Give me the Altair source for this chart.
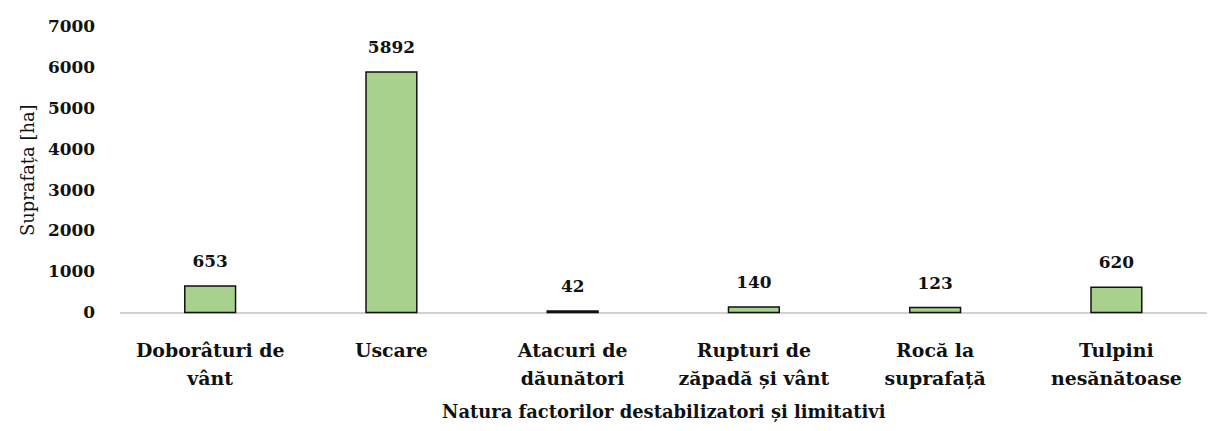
import altair as alt
import pandas as pd

categories = [
    "Doborâturi de\nvânt",
    "Uscare",
    "Atacuri de\ndăunători",
    "Rupturi de\nzăpadă și vânt",
    "Rocă la\nsuprafață",
    "Tulpini\nnesănătoase",
]
values = [653, 5892, 42, 140, 123, 620]
y_ticks = [0, 1000, 2000, 3000, 4000, 5000, 6000, 7000]

df = pd.DataFrame({"cat": categories, "val": values})
FONT = "DejaVu Serif"

x = alt.X(
    "cat:N",
    sort=categories,
    scale=alt.Scale(paddingInner=0, paddingOuter=0),
    axis=alt.Axis(
        title="Natura factorilor destabilizatori și limitativi",
        labelExpr="split(datum.label, '\\n')",
        labelAngle=0,
        labelFont=FONT,
        labelFontWeight="bold",
        labelFontSize=19,
        labelColor="#111",
        labelLineHeight=28,
        labelPadding=29,
        labelBaseline="top",
        ticks=False,
        domainColor="#d0d0d0",
        domainWidth=2,
        titleFont=FONT,
        titleFontWeight="bold",
        titleFontSize=18,
        titleColor="#111",
        titlePadding=15,
    ),
)
y = alt.Y(
    "val:Q",
    scale=alt.Scale(domain=[0, 7000]),
    axis=alt.Axis(
        title="Suprafața [ha]",
        values=y_ticks,
        format="d",
        grid=False,
        domain=False,
        ticks=False,
        labelFont=FONT,
        labelFontWeight="bold",
        labelFontSize=17,
        labelColor="#111",
        labelPadding=25,
        titleFont=FONT,
        titleFontWeight="normal",
        titleFontSize=18,
        titleColor="#111",
        titlePadding=10,
    ),
)

bars = alt.Chart(df).mark_bar(
    color="#a9d18e", stroke="#111", strokeWidth=1.5, width=51
).encode(x=x, y=y)

labels = alt.Chart(df).mark_text(
    font=FONT, fontWeight="bold", fontSize=17, color="#111", dy=-24, baseline="middle"
).encode(x=alt.X("cat:N", sort=categories), y="val:Q", text="val:Q")

chart = (
    alt.layer(bars, labels)
    .properties(
        width=1092,
        height=287,
        autosize=alt.AutoSizeParams(type="none"),
        padding={"left": 112, "top": 18, "right": 0, "bottom": 110},
    )
    .configure(background="white")
    .configure_view(strokeWidth=0, stroke=None)
)

chart.save("out.html", embed_options={"renderer": "svg", "actions": False})
